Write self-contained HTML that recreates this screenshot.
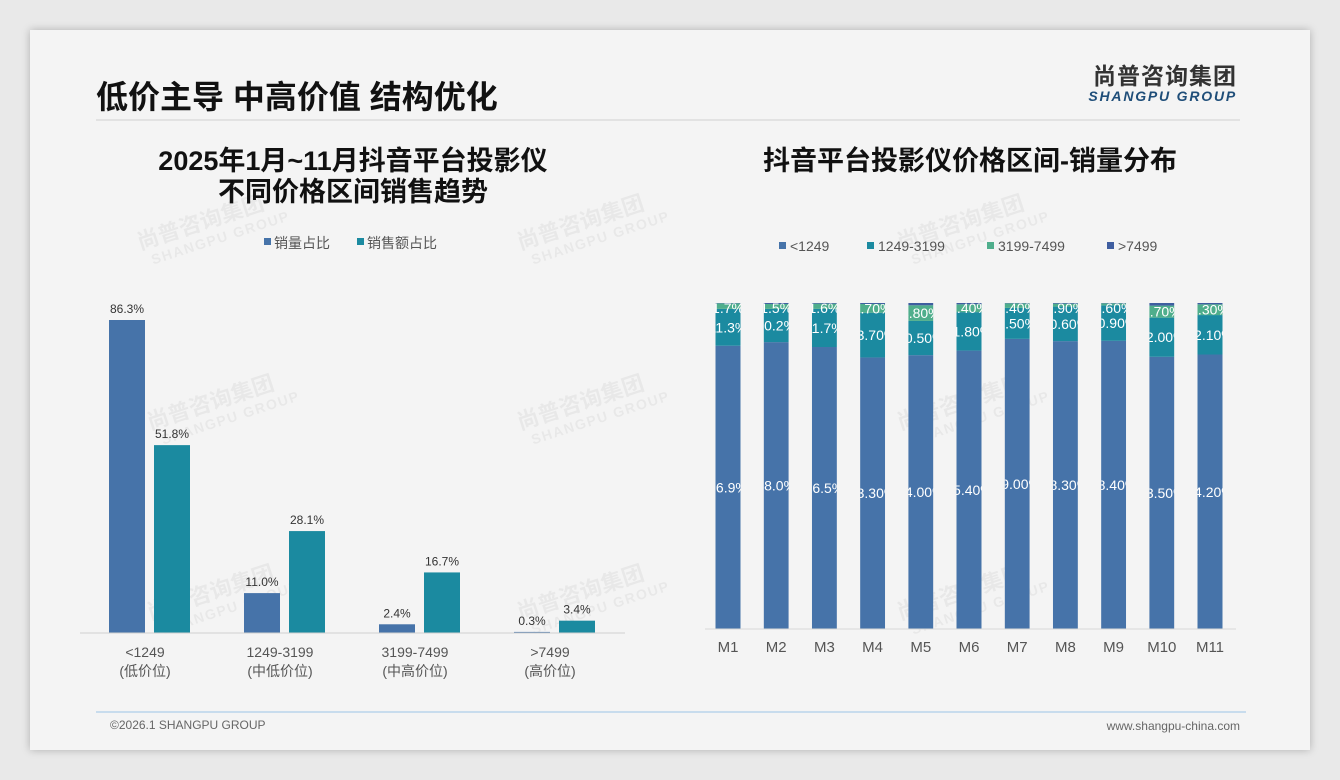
<!DOCTYPE html>
<html><head><meta charset="utf-8">
<style>
html,body{margin:0;padding:0;width:1340px;height:780px;background:#e9e9e9;overflow:hidden;font-family:"Liberation Sans","Noto Sans CJK SC",sans-serif;}
#slide{position:absolute;left:30px;top:30px;width:1280px;height:720px;background:#f4f4f4;box-shadow:0 0 8px rgba(0,0,0,0.25);}
svg{position:absolute;left:0;top:0;}
</style></head>
<body>
<div id="slide"></div>
<svg id="chart" width="1340" height="780"></svg>
<script>
// Left chart data
const leftCats = ['<1249','1249-3199','3199-7499','>7499'];
const leftSubs = ['(低价位)','(中低价位)','(中高价位)','(高价位)'];
const volShare = [86.3, 11.0, 2.4, 0.3];
const salesShare = [51.8, 28.1, 16.7, 3.4];
// Right chart data
const months = ['M1','M2','M3','M4','M5','M6','M7','M8','M9','M10','M11'];
const segLow = [86.9, 88.0, 86.5, 83.3, 84.0, 85.4, 89.0, 88.3, 88.4, 83.5, 84.2];
const segMidLow = [11.3, 10.2, 11.7, 13.7, 10.5, 11.8, 9.5, 10.6, 10.9, 12.0, 12.1];
const segMidHigh = [1.7, 1.5, 1.6, 2.7, 4.8, 2.4, 1.4, 0.9, 0.6, 3.7, 3.3];
const segHigh = [0.1, 0.3, 0.2, 0.3, 0.7, 0.4, 0.1, 0.2, 0.1, 0.8, 0.4];
const lowLabels = ['86.9%','88.0%','86.5%','83.30%','84.00%','85.40%','89.00%','88.30%','88.40%','83.50%','84.20%'];
const midLowLabels = ['11.3%','10.2%','11.7%','13.70%','10.50%','11.80%','9.50%','10.60%','10.90%','12.00%','12.10%'];
const midHighLabels = ['1.7%','1.5%','1.6%','2.70%','4.80%','2.40%','1.40%','0.90%','0.60%','3.70%','3.30%'];

const NS='http://www.w3.org/2000/svg';
const svg=document.getElementById('chart');
function mk(tag,attrs,parent){const e=document.createElementNS(NS,tag);for(const k in attrs)e.setAttribute(k,attrs[k]);(parent||svg).appendChild(e);return e;}
function txt(s,attrs,parent){const e=mk('text',attrs,parent);e.textContent=s;return e;}
const BLUE='#4673a9',TEAL='#1b8aa0',GREEN='#4fae8c',NAVY='#3f5ea0';

// header
let t=txt('低价主导 中高价值 结构优化',{x:96,y:108,'font-size':32,'font-weight':'bold',fill:'#111'});


let l=mk('line',{x1:96,y1:120,x2:1240,y2:120,stroke:'#dcdcdc','stroke-width':1.5});


t=txt('尚普咨询集团',{x:1237,y:84,'font-size':23,'font-weight':'bold',fill:'#333','text-anchor':'end','letter-spacing':'1'});


t=txt('SHANGPU GROUP',{x:1237,y:101,'font-size':14,'font-weight':'bold','font-style':'italic',fill:'#1f4e79','text-anchor':'end','letter-spacing':'1.8'});



// watermarks
const wm=[[140,250],[520,250],[900,250],[150,430],[520,430],[900,430],[150,620],[520,620],[900,620]];
wm.forEach(p=>{
  const g=mk('g',{transform:`translate(${p[0]},${p[1]}) rotate(-18)`,opacity:0.045});
  
  
  txt('尚普咨询集团',{x:0,y:0,'font-size':22,'font-weight':'bold',fill:'#000'},g);
  txt('SHANGPU GROUP',{x:8,y:18,'font-size':14,'font-weight':'bold',fill:'#000','letter-spacing':'1.5'},g);
});

// left chart
t=txt('2025年1月~11月抖音平台投影仪',{x:353,y:170,'font-size':27,'font-weight':'bold',fill:'#111','text-anchor':'middle'});


t=txt('不同价格区间销售趋势',{x:353,y:201,'font-size':27,'font-weight':'bold',fill:'#111','text-anchor':'middle'});


let r=mk('rect',{x:264,y:238,width:7,height:7,fill:BLUE});


t=txt('销量占比',{x:274,y:248,'font-size':14,fill:'#555'});


r=mk('rect',{x:357,y:238,width:7,height:7,fill:TEAL});


t=txt('销售额占比',{x:367,y:248,'font-size':14,fill:'#555'});



const LB=633, LS=313/86.3;
const ly=v=>LB-v*LS;
const lx=i=>145+i*135;
leftCats.forEach((c,i)=>{
  const cx=lx(i);
  let b=mk('rect',{x:cx-36,y:ly(volShare[i]),width:36,height:LB-ly(volShare[i]),fill:BLUE});
  
  
  let v=txt(volShare[i].toFixed(1)+'%',{x:cx-18,y:ly(volShare[i])-7,'font-size':12,fill:'#333','text-anchor':'middle'});
  
  
  b=mk('rect',{x:cx+9,y:ly(salesShare[i]),width:36,height:LB-ly(salesShare[i]),fill:TEAL});
  
  
  v=txt(salesShare[i].toFixed(1)+'%',{x:cx+27,y:ly(salesShare[i])-7,'font-size':12,fill:'#333','text-anchor':'middle'});
  
  
  let a=txt(c,{x:cx,y:657,'font-size':14,fill:'#555','text-anchor':'middle'});
  
  
  a=txt(leftSubs[i],{x:cx,y:676,'font-size':14,fill:'#555','text-anchor':'middle'});
  
  
});
l=mk('line',{x1:80,y1:LB,x2:625,y2:LB,stroke:'#d0d0d0','stroke-width':1});



// right chart
t=txt('抖音平台投影仪价格区间-销量分布',{x:970,y:170,'font-size':27,'font-weight':'bold',fill:'#111','text-anchor':'middle'});


const legs=[['<1249',BLUE,779],['1249-3199',TEAL,867],['3199-7499',GREEN,987],['>7499',NAVY,1107]];
legs.forEach(g=>{
  const s=mk('rect',{x:g[2],y:242,width:7,height:7,fill:g[1]});
  
  
  const e=txt(g[0],{x:g[2]+11,y:251,'font-size':14,fill:'#555'});
  
  
});
const RB=629, RS=326/100;
const ry=v=>RB-v*RS;
const rx=i=>728+i*48.2;
const BW=25;
const defs=mk('defs',{});
months.forEach((m,i)=>{
  const cx=rx(i), x0=cx-BW/2;
  const cp=mk('clipPath',{id:'cp'+i},defs);
  mk('rect',{x:x0,y:ry(100),width:BW,height:RB-ry(100)},cp);
  const g=mk('g',{'clip-path':`url(#cp${i})`});
  
  
  const segs=[[segLow[i],BLUE,lowLabels[i]],[segMidLow[i],TEAL,midLowLabels[i]],[segMidHigh[i],GREEN,midHighLabels[i]],[segHigh[i],NAVY,'']];
  let base=0;
  segs.forEach((s,k)=>{
    const y1=ry(base+s[0]), y0=ry(base);
    const rr=mk('rect',{x:x0,y:y1,width:BW,height:y0-y1,fill:s[1]},g);
    
    
    base+=s[0];
  });
  base=0;
  segs.forEach((s,k)=>{
    if(s[2]){
      const mid=(ry(base)+ry(base+s[0]))/2;
      const tt=txt(s[2],{x:cx,y:Math.max(mid+5,ry(100)+10),'font-size':14,fill:'#fff','text-anchor':'middle'},g);
      
      
    }
    base+=s[0];
  });
  const a=txt(m,{x:cx,y:652,'font-size':15,fill:'#555','text-anchor':'middle'});
  
  
});
l=mk('line',{x1:705,y1:RB,x2:1236,y2:RB,stroke:'#d8d8d8','stroke-width':1});



// footer
l=mk('line',{x1:96,y1:712,x2:1246,y2:712,stroke:'#9dc3e6','stroke-width':1});


t=txt('©2026.1 SHANGPU GROUP',{x:110,y:729,'font-size':12,fill:'#666'});


t=txt('www.shangpu-china.com',{x:1240,y:730,'font-size':12,fill:'#666','text-anchor':'end'});


</script>
</body></html>
